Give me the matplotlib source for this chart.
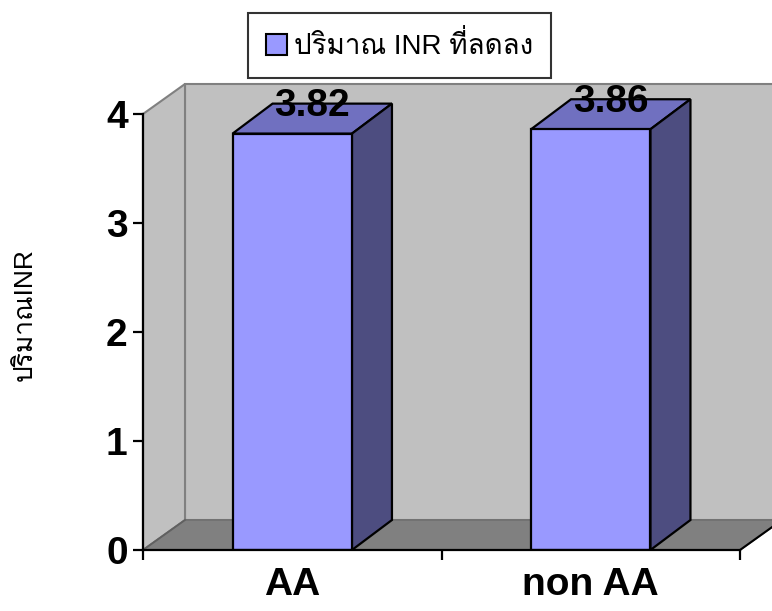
import matplotlib
matplotlib.use("Agg")
import matplotlib.pyplot as plt
from matplotlib.patches import Polygon, Patch
from matplotlib import font_manager
from matplotlib.ft2font import FT2Font

# data
groups = ["AA", "non AA"]
inr_drop = [3.82, 3.86]
yticks = [0, 1, 2, 3, 4]
legend_label = "ปริมาณ INR ที่ลดลง"
ylabel = "ปริมาณINR"

# find a font that can draw Thai, fall back to Liberation/DejaVu for latin
thai_family = None
for f in font_manager.fontManager.ttflist:
    try:
        if FT2Font(f.fname).get_char_index(ord("ป")):
            thai_family = f.name
            break
    except Exception:
        pass
families = ["Liberation Sans"] + ([thai_family] if thai_family else []) + ["DejaVu Sans"]
plt.rcParams["font.family"] = families

W, H = 772, 611
fig = plt.figure(figsize=(W / 100, H / 100), dpi=100)
# front plane of the 3d box: x 143..740 px, y 550..114 px
ax = fig.add_axes([143 / W, (H - 550) / H, 597 / W, 436 / H])
ax.set_xlim(0, 2)
ax.set_ylim(0, 4)
ax.patch.set_alpha(0)

# pixel offsets for depth -> data units
px_x = 2 / 597
px_y = 4 / 436
wdx, wdy = 42 * px_x, 30 * px_y   # walls
bdx, bdy = 40 * px_x, 30 * px_y   # bars

wall = "#C0C0C0"
floor = "#808080"
edge = "#808080"
# back wall, side wall, floor
ax.add_patch(Polygon([(wdx, wdy), (2 + wdx + 0.2, wdy), (2 + wdx + 0.2, 4 + wdy), (wdx, 4 + wdy)],
                     facecolor=wall, edgecolor=edge, lw=1.5, clip_on=False, zorder=0))
ax.add_patch(Polygon([(0, 0), (wdx, wdy), (wdx, 4 + wdy), (0, 4)],
                     facecolor=wall, edgecolor=edge, lw=1.5, clip_on=False, zorder=0))
ax.add_patch(Polygon([(0, 0), (2, 0), (2 + wdx, wdy), (wdx, wdy)],
                     facecolor=floor, edgecolor="#707070", lw=1.2, clip_on=False, zorder=0.5))
ax.plot([2, 2 + wdx], [0, wdy], color="black", lw=1.5, clip_on=False, zorder=0.6)
ax.plot([0, wdx], [0, wdy], color="#606060", lw=1.2, clip_on=False, zorder=0.6)

# bars
xs = [0.5, 1.5]
bw = 0.4
ax.bar(xs, inr_drop, width=bw, color="#9999FF", edgecolor="black", linewidth=1.6, zorder=3)
for x, v in zip(xs, inr_drop):
    l, r = x - bw / 2, x + bw / 2
    ax.add_patch(Polygon([(l, v), (r, v), (r + bdx, v + bdy), (l + bdx, v + bdy)],
                         facecolor="#7070C0", edgecolor="black", lw=1.6, clip_on=False, zorder=2))
    ax.add_patch(Polygon([(r, 0), (r + bdx, bdy), (r + bdx, v + bdy), (r, v)],
                         facecolor="#4D4D80", edgecolor="black", lw=1.6, clip_on=False, zorder=2))
    ax.text(x + bdx / 2, v + bdy / 2 + 0.02, "%.2f" % v, ha="center", va="baseline",
            fontsize=28, fontweight="bold", zorder=5, clip_on=False)

# axes
for s in ["top", "right"]:
    ax.spines[s].set_visible(False)
for s in ["left", "bottom"]:
    ax.spines[s].set_linewidth(1.6)
    ax.spines[s].set_zorder(4)
ax.set_yticks(yticks)
ax.set_yticklabels([str(t) for t in yticks], fontsize=28, fontweight="bold")
ax.tick_params(axis="y", length=7, width=1.6, pad=4)
ax.set_xticks(xs)
ax.set_xticklabels(groups, fontsize=28, fontweight="bold")
ax.tick_params(axis="x", which="major", length=0, pad=12)
ax.set_xticks([0, 1, 2], minor=True)
ax.tick_params(axis="x", which="minor", length=7, width=1.6)

fig.text(25 / W, 1 - 315 / H, ylabel, rotation=90, ha="center", va="center", fontsize=19)

leg = fig.legend(handles=[Patch(facecolor="#9999FF", edgecolor="black", linewidth=1.5)],
                 labels=[legend_label], loc="upper left",
                 bbox_to_anchor=(248 / W, 1 - 13 / H), fontsize=20, frameon=True,
                 fancybox=False, edgecolor="black", handlelength=0.75, handleheight=0.75,
                 handletextpad=0.25, borderpad=0.65, borderaxespad=0)
leg.get_frame().set_linewidth(1.5)

fig.savefig("out.png", dpi=100)
